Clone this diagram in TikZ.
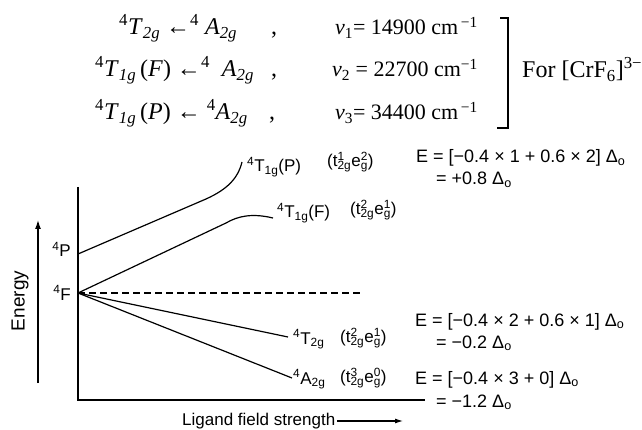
\documentclass[tikz,border=0pt]{standalone}
\usepackage{fontspec}
\setmainfont{Liberation Serif}
\newfontfamily\hv{Liberation Sans}
\usetikzlibrary{arrows.meta}
\newcommand\cfg[2]{(t\rlap{\textsuperscript{#1}}\textsubscript{2g}e\rlap{\textsuperscript{#2}}\textsubscript{g})}
\newcommand\Dlo{Δ\textsubscript{o}}
\tikzset{
  serif/.style={font=\fontsize{24}{28}\selectfont, inner sep=0pt, anchor=base west},
  nu/.style={font=\fontsize{22}{26}\selectfont, inner sep=0pt, anchor=base east},
  lbl/.style={font=\hv\fontsize{17}{20}\selectfont, inner sep=0pt, anchor=base west},
  cfgl/.style={font=\hv\fontsize{17}{20}\selectfont, inner sep=0pt, anchor=west},
  eqn/.style={font=\hv\fontsize{18}{21}\selectfont, inner sep=0pt, anchor=base west},
  lvl/.style={line width=1.2pt},
  axis/.style={line width=1.3pt},
}
\begin{document}
\begin{tikzpicture}[x=1pt,y=-1pt]
\useasboundingbox (0,0) rectangle (642,430);
% ---- top transitions ----
\node[serif] (t1) at (119,35) {\textsuperscript{4}\textit{T}\textsubscript{\textit{2g}} ←\textsuperscript{4}\ \textit{A}\textsubscript{\textit{2g}}};
\node[serif] (c1) at (271,35) {,};
\node[nu] (n1) at (478,35) {\textit{ν}\textsubscript{1}= 14900 cm\textsuperscript{\,−1}};
\node[serif] (t2) at (95,77) {\textsuperscript{4}\textit{T}\textsubscript{\textit{1g}}\,(\textit{F}) ←\textsuperscript{4}\ \ \textit{A}\textsubscript{\textit{2g}}};
\node[serif] (c2) at (271,77) {,};
\node[nu] (n2) at (478,77) {\textit{ν}\textsubscript{2} = 22700 cm\textsuperscript{−1}};
\node[serif] (t3) at (95,120) {\textsuperscript{4}\textit{T}\textsubscript{\textit{1g}}\,(\textit{P}) ← \textsuperscript{4}\textit{A}\textsubscript{\textit{2g}}};
\node[serif] (c3) at (269,120) {,};
\node[nu] (n3) at (478,120) {\textit{ν}\textsubscript{3}= 34400 cm\textsuperscript{\,−1}};
\coordinate (b1) at (500,18);
\coordinate (b2) at (508,18);
\coordinate (b3) at (508,128);
\coordinate (b4) at (497,128);
\draw[line width=1.1pt] (b1) -- (b2) -- (b3) -- (b4);
\node[serif] (for) at (522,78) {For [CrF\textsubscript{6}]\textsuperscript{3−}};
% ---- axes ----
\coordinate (O) at (78,400);
\coordinate (Ytop) at (78,187);
\coordinate (Xend) at (425,400);
\draw[axis] (Ytop) -- (O) -- (Xend);
\coordinate (ea) at (38,383);
\coordinate (eb) at (38,220);
\draw[axis,-{Latex[length=9pt,width=6pt]}] (ea) -- (eb);
\node[font=\hv\fontsize{19}{22}\selectfont, rotate=90, inner sep=0pt] (energy) at (20,301) {Energy};
\node[lbl] (lig) at (182,425) {Ligand field strength};
\coordinate (la) at (337,421);
\coordinate (lb) at (403,421);
\draw[line width=1.1pt,-{Latex[length=8pt,width=5pt]}] (la) -- (lb);
% ---- terms ----
\node[lbl,anchor=base east] (Pterm) at (71,257) {\textsuperscript{4}P};
\node[lbl,anchor=base east] (Fterm) at (71,300) {\textsuperscript{4}F};
\coordinate (P) at (78,254);
\coordinate (F) at (78,293);
% levels
\coordinate (p1) at (206,199);
\coordinate (pe) at (242,162);
\draw[lvl] (P) -- (p1) .. controls (228,189) and (238,178) .. (pe);
\coordinate (f1) at (226,223);
\coordinate (fe) at (273,218);
\draw[lvl] (F) -- (f1) .. controls (238,216) and (252,213) .. (fe);
\coordinate (te) at (288,337);
\draw[lvl] (F) -- (te);
\coordinate (ae) at (292,378);
\draw[lvl] (F) -- (ae);
\coordinate (de) at (362,293);
\draw[lvl,dash pattern=on 7pt off 4pt] (F) -- (de);
% labels
\node[lbl] (LP) at (247,172) {\textsuperscript{4}T\textsubscript{1g}(P)};
\node[cfgl] (CP) at (327,162) {\cfg{1}{2}};
\node[lbl] (LF) at (277,218) {\textsuperscript{4}T\textsubscript{1g}(F)};
\node[cfgl] (CF) at (350,210) {\cfg{2}{1}};
\node[lbl] (LT) at (293,344) {\textsuperscript{4}T\textsubscript{2g}};
\node[cfgl] (CT) at (340,338) {\cfg{2}{1}};
\node[lbl] (LA) at (293,384) {\textsuperscript{4}A\textsubscript{2g}};
\node[cfgl] (CA) at (340,378) {\cfg{3}{0}};
% energies
\node[eqn] (e1) at (416,163) {E = [−0.4 × 1 + 0.6 × 2] \Dlo};
\node[eqn] (e1b) at (436,185) {= +0.8 \Dlo};
\node[eqn] (e2) at (415,326) {E = [−0.4 × 2 + 0.6 × 1] \Dlo};
\node[eqn] (e2b) at (436,348) {= −0.2 \Dlo};
\node[eqn] (e3) at (415,384) {E = [−0.4 × 3 + 0] \Dlo};
\node[eqn] (e3b) at (436,407) {= −1.2 \Dlo};
\end{tikzpicture}
\end{document}
